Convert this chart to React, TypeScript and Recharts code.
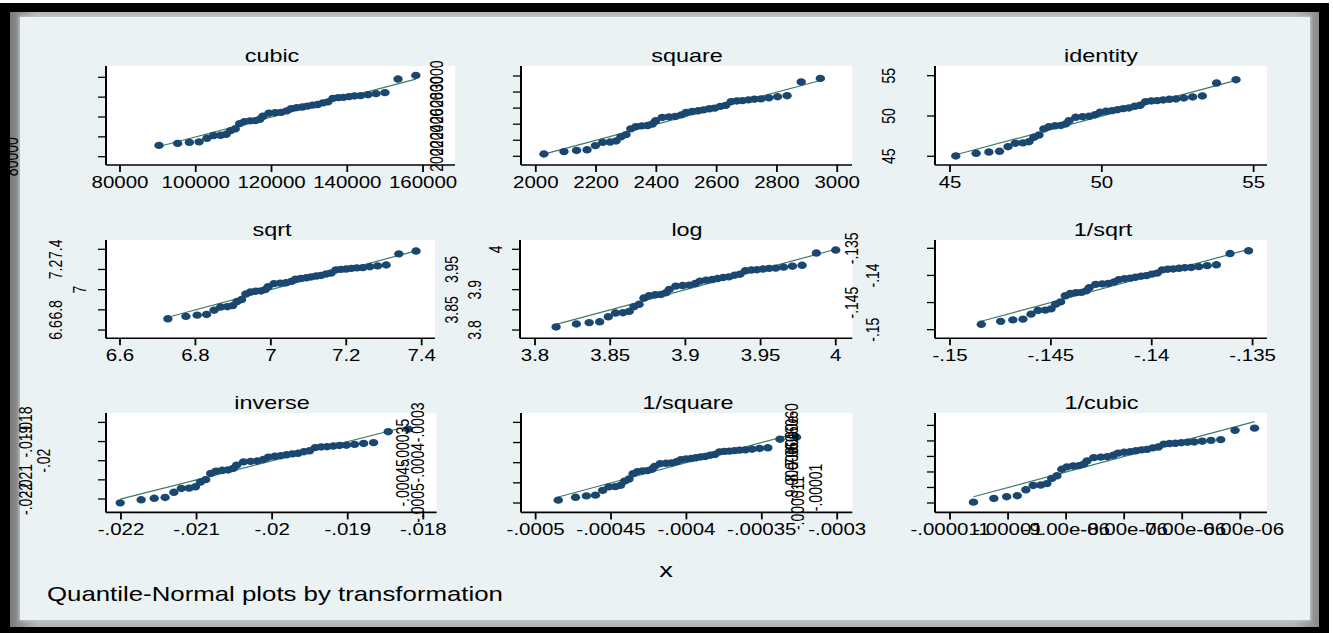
import React from 'react';
import { ScatterChart, Scatter, XAxis, YAxis, CartesianGrid, ReferenceLine } from 'recharts';

const FONT = '"Liberation Sans", Arial, Helvetica, sans-serif';
const SX = 1.28;
const NAVY = '#1A476F';
const LINE = '#3C7A69';

// ---------- data (x = inverse-normal quantile, y = transformed value) ----------
const cubicX = [90300, 95222, 98307, 100877, 102931, 104701, 106531, 108003, 109176, 110430, 111603, 112850, 114322, 115718, 116891, 117698, 119318, 121007, 122546, 124017, 125190, 126661, 128132, 129455, 130844, 132173, 133563, 134885, 136207, 137604, 139001, 140472, 141936, 143557, 145469, 147598, 149944, 153401, 158100];
const cubicY = [91368, 93391, 94383, 94944, 98547, 101325, 101586, 102569, 106227, 108122, 113310, 115288, 116071, 116357, 117721, 120700, 123804, 124326, 124700, 126204, 128482, 129401, 130016, 130942, 131950, 132573, 134218, 135243, 138750, 139475, 139798, 140527, 141177, 141502, 142482, 143549, 144538, 158253, 161879];

const squareX = [2027, 2093.6, 2135.3, 2170.1, 2197.8, 2221.8, 2246.5, 2266.4, 2282.3, 2299.3, 2315.1, 2332.0, 2351.9, 2370.8, 2386.6, 2397.6, 2419.5, 2442.3, 2463.1, 2483.0, 2498.9, 2518.8, 2538.7, 2556.6, 2575.4, 2593.3, 2612.1, 2630.0, 2647.9, 2666.8, 2685.7, 2705.6, 2725.4, 2747.3, 2773.2, 2802.0, 2833.7, 2880.5, 2944.0];
const squareY = [2028.6, 2058.4, 2073.0, 2081.2, 2133.5, 2173.4, 2177.2, 2191.2, 2243.0, 2269.6, 2341.6, 2368.8, 2379.5, 2383.4, 2402.0, 2442.3, 2484.0, 2491.0, 2496.0, 2516.0, 2546.2, 2558.3, 2566.4, 2578.6, 2591.8, 2600.0, 2621.4, 2634.8, 2680.1, 2689.5, 2693.6, 2703.0, 2711.3, 2715.5, 2728.0, 2741.6, 2754.2, 2925.7, 2970.3];

const identityX = [45.19, 45.86, 46.28, 46.63, 46.91, 47.15, 47.40, 47.60, 47.76, 47.93, 48.09, 48.26, 48.46, 48.65, 48.81, 48.92, 49.14, 49.37, 49.58, 49.78, 49.94, 50.14, 50.34, 50.52, 50.71, 50.89, 51.08, 51.26, 51.44, 51.63, 51.82, 52.02, 52.22, 52.44, 52.70, 52.99, 53.31, 53.78, 54.42];
const identityY = [45.04, 45.37, 45.53, 45.62, 46.19, 46.62, 46.66, 46.81, 47.36, 47.64, 48.39, 48.67, 48.78, 48.82, 49.01, 49.42, 49.84, 49.91, 49.96, 50.16, 50.46, 50.58, 50.66, 50.78, 50.91, 50.99, 51.20, 51.33, 51.77, 51.86, 51.90, 51.99, 52.07, 52.11, 52.23, 52.36, 52.48, 54.09, 54.50];

const sqrtX = [6.7270, 6.7748, 6.8047, 6.8297, 6.8496, 6.8668, 6.8845, 6.8988, 6.9102, 6.9224, 6.9337, 6.9459, 6.9601, 6.9737, 6.9851, 6.9929, 7.0086, 7.0250, 7.0399, 7.0542, 7.0656, 7.0799, 7.0942, 7.1070, 7.1205, 7.1334, 7.1469, 7.1597, 7.1725, 7.1861, 7.1996, 7.2139, 7.2281, 7.2439, 7.2624, 7.2831, 7.3058, 7.3394, 7.3850];
const sqrtY = [6.7112, 6.7357, 6.7476, 6.7543, 6.7963, 6.8279, 6.8308, 6.8418, 6.8819, 6.9022, 6.9563, 6.9764, 6.9843, 6.9871, 7.0007, 7.0299, 7.0598, 7.0647, 7.0682, 7.0824, 7.1035, 7.1120, 7.1176, 7.1260, 7.1351, 7.1407, 7.1554, 7.1645, 7.1951, 7.2014, 7.2042, 7.2104, 7.2160, 7.2187, 7.2270, 7.2360, 7.2443, 7.3546, 7.3824];

const logX = [3.8140, 3.8275, 3.8360, 3.8430, 3.8487, 3.8535, 3.8585, 3.8626, 3.8658, 3.8692, 3.8724, 3.8759, 3.8799, 3.8837, 3.8869, 3.8892, 3.8936, 3.8982, 3.9025, 3.9065, 3.9097, 3.9138, 3.9178, 3.9214, 3.9252, 3.9289, 3.9327, 3.9363, 3.9399, 3.9438, 3.9476, 3.9516, 3.9557, 3.9601, 3.9653, 3.9712, 3.9776, 3.9871, 4.0000];
const logY = [3.8076, 3.8149, 3.8184, 3.8204, 3.8328, 3.8420, 3.8429, 3.8461, 3.8578, 3.8637, 3.8793, 3.8851, 3.8873, 3.8881, 3.8920, 3.9004, 3.9088, 3.9102, 3.9112, 3.9152, 3.9212, 3.9236, 3.9251, 3.9275, 3.9301, 3.9316, 3.9357, 3.9383, 3.9468, 3.9486, 3.9493, 3.9511, 3.9526, 3.9534, 3.9557, 3.9581, 3.9604, 3.9907, 3.9982];

const invSqrtX = [-0.14845, -0.147488, -0.146885, -0.146383, -0.145982, -0.145636, -0.145278, -0.14499, -0.144761, -0.144516, -0.144287, -0.144043, -0.143756, -0.143483, -0.143253, -0.143096, -0.142779, -0.142449, -0.142148, -0.141861, -0.141632, -0.141344, -0.141056, -0.140798, -0.140526, -0.140267, -0.139995, -0.139737, -0.139478, -0.139205, -0.138933, -0.138645, -0.138359, -0.138042, -0.137668, -0.137252, -0.136794, -0.136118, -0.1352];
const invSqrtY = [-0.149005, -0.148462, -0.148201, -0.148055, -0.147138, -0.146458, -0.146395, -0.146161, -0.145309, -0.144882, -0.143754, -0.14334, -0.143179, -0.14312, -0.142842, -0.142249, -0.141648, -0.141549, -0.141478, -0.141196, -0.140775, -0.140608, -0.140497, -0.140331, -0.140152, -0.140042, -0.139754, -0.139577, -0.138983, -0.138862, -0.138808, -0.138688, -0.138582, -0.138528, -0.138369, -0.138197, -0.138039, -0.13597, -0.135457];

const inverseX = [-0.02201, -0.021733, -0.02156, -0.021416, -0.0213, -0.021201, -0.021098, -0.021015, -0.020949, -0.020879, -0.020813, -0.020743, -0.02066, -0.020582, -0.020516, -0.02047, -0.020379, -0.020285, -0.020198, -0.020115, -0.020049, -0.019967, -0.019884, -0.01981, -0.019732, -0.019657, -0.019579, -0.019505, -0.01943, -0.019352, -0.019273, -0.019191, -0.019108, -0.019017, -0.01891, -0.01879, -0.018658, -0.018464, -0.0182];
const inverseY = [-0.0222025, -0.022041, -0.0219635, -0.0219202, -0.0216497, -0.02145, -0.0214316, -0.021363, -0.0211149, -0.0209908, -0.0206654, -0.0205466, -0.0205002, -0.0204834, -0.020404, -0.0202347, -0.0200642, -0.0200361, -0.020016, -0.0199362, -0.0198177, -0.0197707, -0.0197394, -0.0196928, -0.0196425, -0.0196117, -0.0195313, -0.0194818, -0.0193162, -0.0192827, -0.0192678, -0.0192345, -0.0192049, -0.0191902, -0.0191461, -0.0190985, -0.0190549, -0.0184877, -0.0183486];

const invSquareX = [-4.85e-4, -4.7353e-4, -4.6634e-4, -4.6035e-4, -4.5557e-4, -4.5144e-4, -4.4718e-4, -4.4375e-4, -4.4101e-4, -4.3809e-4, -4.3536e-4, -4.3245e-4, -4.2902e-4, -4.2577e-4, -4.2303e-4, -4.2115e-4, -4.1738e-4, -4.1344e-4, -4.0986e-4, -4.0643e-4, -4.0369e-4, -4.0027e-4, -3.9684e-4, -3.9376e-4, -3.9052e-4, -3.8742e-4, -3.8418e-4, -3.811e-4, -3.7802e-4, -3.7476e-4, -3.7151e-4, -3.6808e-4, -3.6467e-4, -3.6089e-4, -3.5644e-4, -3.5147e-4, -3.4601e-4, -3.3795e-4, -3.27e-4];
const invSquareY = [-4.9295e-4, -4.8581e-4, -4.8239e-4, -4.8049e-4, -4.6871e-4, -4.6011e-4, -4.5931e-4, -4.5637e-4, -4.4583e-4, -4.4061e-4, -4.2706e-4, -4.2216e-4, -4.2026e-4, -4.1957e-4, -4.1632e-4, -4.0945e-4, -4.0258e-4, -4.0145e-4, -4.0064e-4, -3.9746e-4, -3.9274e-4, -3.9088e-4, -3.8965e-4, -3.8781e-4, -3.8583e-4, -3.8462e-4, -3.8148e-4, -3.7954e-4, -3.7312e-4, -3.7182e-4, -3.7125e-4, -3.6996e-4, -3.6883e-4, -3.6826e-4, -3.6657e-4, -3.6475e-4, -3.6308e-4, -3.418e-4, -3.3667e-4];

const invCubicX = [-10.596e-6, -10.2445e-6, -10.0242e-6, -9.8407e-6, -9.6939e-6, -9.5676e-6, -9.4368e-6, -9.3318e-6, -9.248e-6, -9.1584e-6, -9.0746e-6, -8.9856e-6, -8.8805e-6, -8.7807e-6, -8.697e-6, -8.6394e-6, -8.5236e-6, -8.4031e-6, -8.2931e-6, -8.1881e-6, -8.1043e-6, -7.9992e-6, -7.8942e-6, -7.7997e-6, -7.7005e-6, -7.6056e-6, -7.5063e-6, -7.4119e-6, -7.3175e-6, -7.2177e-6, -7.118e-6, -7.0129e-6, -6.9083e-6, -6.7926e-6, -6.6561e-6, -6.504e-6, -6.3365e-6, -6.0896e-6, -5.754e-6];
const invCubicY = [-10.9447e-6, -10.7077e-6, -10.5951e-6, -10.5325e-6, -10.1474e-6, -9.8692e-6, -9.8439e-6, -9.7495e-6, -9.4138e-6, -9.2488e-6, -8.8253e-6, -8.6739e-6, -8.6154e-6, -8.5942e-6, -8.4947e-6, -8.285e-6, -8.0773e-6, -8.0434e-6, -8.0192e-6, -7.9237e-6, -7.7832e-6, -7.7279e-6, -7.6914e-6, -7.637e-6, -7.5786e-6, -7.543e-6, -7.4506e-6, -7.3941e-6, -7.2072e-6, -7.1697e-6, -7.1532e-6, -7.1161e-6, -7.0833e-6, -7.067e-6, -7.0184e-6, -6.9663e-6, -6.9186e-6, -6.319e-6, -6.1775e-6];

// ---------- ticks & tick labels ----------
const cubicTicks = [80000, 100000, 120000, 140000, 160000];
const cubicLabels = ['80000', '100000', '120000', '140000', '160000'];
const squareTicks = [2000, 2200, 2400, 2600, 2800, 3000];
const squareLabels = ['2000', '2200', '2400', '2600', '2800', '3000'];
const identityTicks = [45, 50, 55];
const identityLabels = ['45', '50', '55'];
const sqrtTicks = [6.6, 6.8, 7, 7.2, 7.4];
const sqrtLabels = ['6.6', '6.8', '7', '7.2', '7.4'];
const logTicks = [3.8, 3.85, 3.9, 3.95, 4];
const logLabels = ['3.8', '3.85', '3.9', '3.95', '4'];
const invSqrtTicks = [-0.15, -0.145, -0.14, -0.135];
const invSqrtLabels = ['-.15', '-.145', '-.14', '-.135'];
const inverseTicks = [-0.022, -0.021, -0.02, -0.019, -0.018];
const inverseLabels = ['-.022', '-.021', '-.02', '-.019', '-.018'];
const invSquareTicks = [-0.0005, -0.00045, -0.0004, -0.00035, -0.0003];
const invSquareLabels = ['-.0005', '-.00045', '-.0004', '-.00035', '-.0003'];
const invCubicTicks = [-0.000011, -0.00001, -0.000009, -0.000008, -0.000007, -0.000006];
const invCubicLabels = ['-.000011', '-.00001', '-9.00e-06', '-8.00e-06', '-7.00e-06', '-6.00e-06'];

const panelTitles = ['cubic', 'square', 'identity', 'sqrt', 'log', '1/sqrt', 'inverse', '1/square', '1/cubic'];

// ---------- layout (page pixels) ----------
type Cfg = {
  title: string; titleX: number; titleY: number;
  L: number; T: number; R: number; B: number;
  xs: number[]; ys: number[];
  xDomain: [number, number]; yDomain: [number, number];
  ticks: number[]; labels: string[]; yOff: number[];
};

const panels: Cfg[] = [
  { title: panelTitles[0], titleX: 272, titleY: 61.7, L: 106, T: 66, R: 455, B: 165, xs: cubicX, ys: cubicY,
    xDomain: [76306, 168443], yDomain: [71637, 171385], ticks: cubicTicks, labels: cubicLabels, yOff: [94, 112, 112, 112, 112] },
  { title: panelTitles[1], titleX: 687, titleY: 61.7, L: 521, T: 66, R: 852, B: 165, xs: squareX, ys: squareY,
    xDomain: [1951, 3049], yDomain: [1891.7, 3124.5], ticks: squareTicks, labels: squareLabels, yOff: [84, 84, 84, 84, 84, 84] },
  { title: panelTitles[2], titleX: 1101, titleY: 61.7, L: 935, T: 66, R: 1267, B: 165, xs: identityX, ys: identityY,
    xDomain: [44.505, 55.44], yDomain: [43.92, 56.2], ticks: identityTicks, labels: identityLabels, yOff: [46, 46, 46] },
  { title: panelTitles[3], titleX: 272, titleY: 235.5, L: 106, T: 240, R: 435, B: 338.3, xs: sqrtX, ys: sqrtY,
    xDomain: [6.5629, 7.4353], yDomain: [6.518, 7.492], ticks: sqrtTicks, labels: sqrtLabels, yOff: [50.5, 50.5, 26, 50.5, 50.5] },
  { title: panelTitles[4], titleX: 687, titleY: 235.5, L: 520, T: 240, R: 852.3, B: 338.3, xs: logX, ys: logY,
    xDomain: [3.79, 4.011], yDomain: [3.7795, 4.023], ticks: logTicks, labels: logLabels, yOff: [45, 68, 45, 68, 24] },
  { title: panelTitles[5], titleX: 1103, titleY: 235.5, L: 935, T: 240, R: 1267, B: 338.3, xs: invSqrtX, ys: invSqrtY,
    xDomain: [-0.150744, -0.134286], yDomain: [-0.15159, -0.13347], ticks: invSqrtTicks, labels: invSqrtLabels, yOff: [62, 83, 62, 83] },
  { title: panelTitles[6], titleX: 272, titleY: 408.5, L: 106, T: 413.3, R: 436.7, B: 512.7, xs: inverseX, ys: inverseY,
    xDomain: [-0.022198, -0.017823], yDomain: [-0.0227, -0.017509], ticks: inverseTicks, labels: inverseLabels, yOff: [80, 80, 62, 80, 80] },
  { title: panelTitles[7], titleX: 688, titleY: 408.5, L: 521, T: 413.3, R: 852.3, B: 512.7, xs: invSquareX, ys: invSquareY,
    xDomain: [-0.0005097, -0.00029], yDomain: [-0.0005233, -0.0002767], ticks: invSquareTicks, labels: invSquareLabels, yOff: [103.5, 118, 103.5, 118, 103.5] },
  { title: panelTitles[8], titleX: 1101.5, titleY: 408.5, L: 935, T: 413.3, R: 1267, B: 512.7, xs: invCubicX, ys: invCubicY,
    xDomain: [-1.12586e-5, -5.5397e-6], yDomain: [-1.1606e-5, -5.2e-6], ticks: invCubicTicks, labels: invCubicLabels, yOff: [137, 119, 143, 143, 143, 143] },
];

const ML = 170, MR = 70, MT = 10, YW = 10, XH = 40;

const Dot = (p: any) => <ellipse cx={p.cx} cy={p.cy} rx={4.7} ry={3.7} fill={NAVY} />;

function Panel({ cfg }: { cfg: Cfg }) {
  const W = cfg.R - cfg.L;
  const H = cfg.B - cfg.T;
  const chartW = ML + YW + W + MR;
  const chartH = MT + H + XH;
  const pts = cfg.xs.map((x, i) => ({ x, y: cfg.ys[i] }));
  const x1 = cfg.xs[0];
  const xn = cfg.xs[cfg.xs.length - 1];
  const XTick = (p: any) => (
    <text transform={`translate(${p.x},${p.y + 14}) scale(${SX},1)`} textAnchor="middle" fontSize={16} fontFamily={FONT} fill="#000">
      {cfg.labels[p.index]}
    </text>
  );
  const YTick = (p: any) => {
    const axisX = p.x + 10;
    const cx = axisX - cfg.yOff[p.index];
    return (
      <text transform={`translate(${cx + 6.4},${p.y}) scale(${SX},1) rotate(-90)`} textAnchor="middle" fontSize={14} fontFamily={FONT} fill="#000">
        {cfg.labels[p.index]}
      </text>
    );
  };
  return (
    <div style={{ position: 'absolute', left: cfg.L - ML - YW, top: cfg.T - MT }}>
      <ScatterChart width={chartW} height={chartH} margin={{ top: MT, right: MR, bottom: 0, left: ML }}>
        <CartesianGrid fill="#ffffff" stroke="none" />
        <XAxis type="number" dataKey="x" domain={cfg.xDomain} allowDataOverflow ticks={cfg.ticks} interval={0}
          height={XH} tickSize={7} tickMargin={2} axisLine={{ stroke: '#000', strokeWidth: 1.6 }}
          tickLine={{ stroke: '#000', strokeWidth: 1.8 }} tick={XTick} />
        <YAxis type="number" dataKey="y" domain={cfg.yDomain} allowDataOverflow ticks={cfg.ticks} interval={0}
          width={YW} tickSize={8} tickMargin={2} axisLine={{ stroke: '#000', strokeWidth: 2 }}
          tickLine={{ stroke: '#000', strokeWidth: 1.3 }} tick={YTick} />
        <Scatter data={pts} fill={NAVY} shape={Dot} isAnimationActive={false} />
        <ReferenceLine segment={[{ x: x1, y: x1 }, { x: xn, y: xn }]} stroke={LINE} strokeWidth={1.2} />
      </ScatterChart>
    </div>
  );
}

export default function App() {
  return (
    <div style={{ position: 'absolute', left: 0, top: 0, width: 1333, height: 633, background: '#ffffff', overflow: 'hidden' }}>
      {/* window frame base */}
      <div style={{ position: 'absolute', left: 0, top: 3, width: 1329, height: 630, background: '#000' }} />
      <div style={{ position: 'absolute', left: 10, top: 12, width: 1309, height: 615, background: 'linear-gradient(90deg,#7a7a7a,#b5b8b9 2%,#b5b8b9 98%,#8a8a8a)' }} />
      <div style={{ position: 'absolute', left: 20, top: 17, width: 1290, height: 603, background: '#EAF2F3', boxShadow: '0 0 3px 1px #c4c8c9' }} />
      {panels.map((c, i) => <Panel key={i} cfg={c} />)}
      <svg width={1333} height={633} style={{ position: 'absolute', left: 0, top: 0 }}>
        {panels.map((c, i) => (
          <text key={i} transform={`translate(${c.titleX},${c.titleY}) scale(1.3,1)`} textAnchor="middle" fontSize={18} fontFamily={FONT} fill="#000">{c.title}</text>
        ))}
        <text transform="translate(666,577) scale(1.3,1)" textAnchor="middle" fontSize={21} fontFamily={FONT} fill="#000">x</text>
        <text transform="translate(47,601) scale(1.29,1)" textAnchor="start" fontSize={20} fontFamily={FONT} fill="#000">Quantile-Normal plots by transformation</text>
      </svg>
      {/* black frame on top */}
      <div style={{ position: 'absolute', left: 0, top: 3, width: 1329, height: 9, background: '#000' }} />
      <div style={{ position: 'absolute', left: 0, top: 3, width: 10, height: 630, background: '#000' }} />
      <div style={{ position: 'absolute', left: 1319, top: 3, width: 10, height: 630, background: '#000' }} />
      <div style={{ position: 'absolute', left: 0, top: 627, width: 1329, height: 6, background: '#000' }} />
    </div>
  );
}
